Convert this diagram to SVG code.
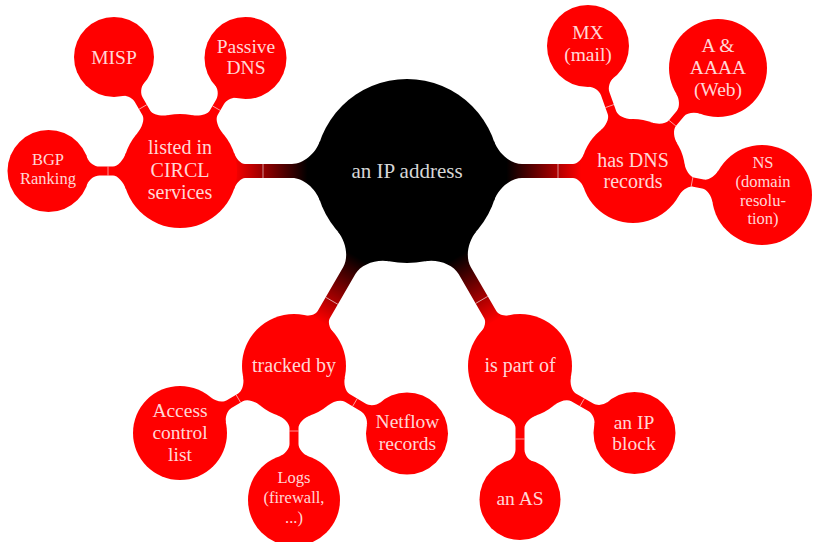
<svg xmlns="http://www.w3.org/2000/svg" width="815" height="542" viewBox="0 0 815 542">
<style>
.red{fill:#ff0000}
.blk{fill:#000000}
.bar{fill:url(#g)}
.sep{stroke:#ffffff;stroke-width:0.7;stroke-opacity:0.8;fill:none}
text{font-family:"Liberation Serif","Times New Roman",serif;fill:#ffffff;fill-opacity:0.85;text-anchor:middle}
.t0{font-size:21px}
.t1{font-size:20px}
.t2{font-size:19.5px}
.ts{font-size:16.5px}
</style>
<defs>
<linearGradient id="g" gradientUnits="userSpaceOnUse" x1="0" y1="0" x2="226" y2="0">
<stop offset="0" stop-color="#000"/>
<stop offset="0.44" stop-color="#000"/>
<stop offset="0.77" stop-color="#f00"/>
<stop offset="1" stop-color="#f00"/>
</linearGradient>
</defs>
<g id="connectors">
<g transform="translate(407,171) rotate(180)">
<path class="bar" d="M86.99,29.95 C91.34,17.33 103.94,7 115,7 L162,7 C165.92,7 170.92,12.2 173.11,18.56 L173.11,-18.56 C170.92,-12.2 165.92,-7 162,-7 L115,-7 C103.94,-7 91.34,-17.33 86.99,-29.95 Z"/>
<line class="sep" x1="144" y1="-7" x2="144" y2="7"/>
</g>
<g transform="translate(407,171) rotate(0)">
<path class="bar" d="M86.99,29.95 C91.34,17.33 103.94,7 115,7 L166,7 C170.08,7 174.95,11.47 176.83,16.93 L176.83,-16.93 C174.95,-11.47 170.08,-7 166,-7 L115,-7 C103.94,-7 91.34,-17.33 86.99,-29.95 Z"/>
<line class="sep" x1="151" y1="-7" x2="151" y2="7"/>
</g>
<g transform="translate(407,171) rotate(120.1)">
<path class="bar" d="M86.99,29.95 C91.34,17.33 103.94,7 115,7 L166,7 C170.08,7 174.95,11.47 176.83,16.93 L176.83,-16.93 C174.95,-11.47 170.08,-7 166,-7 L115,-7 C103.94,-7 91.34,-17.33 86.99,-29.95 Z"/>
<line class="sep" x1="150" y1="-7" x2="150" y2="7"/>
</g>
<g transform="translate(407,171) rotate(59.9)">
<path class="bar" d="M86.99,29.95 C91.34,17.33 103.94,7 115,7 L166,7 C170.08,7 174.95,11.47 176.83,16.93 L176.83,-16.93 C174.95,-11.47 170.08,-7 166,-7 L115,-7 C103.94,-7 91.34,-17.33 86.99,-29.95 Z"/>
<line class="sep" x1="149" y1="-7" x2="149" y2="7"/>
</g>
<g transform="translate(180,171) rotate(-120.1)">
<path class="red" d="M53.89,18.56 C56.55,10.83 62.45,4.5 67,4.5 L82,4.5 C87.09,4.5 92.57,8.33 94.18,13.02 L94.18,-13.02 C92.57,-8.33 87.09,-4.5 82,-4.5 L67,-4.5 C62.45,-4.5 56.55,-10.83 53.89,-18.56 Z"/>
<line class="sep" x1="74" y1="-4.5" x2="74" y2="4.5"/>
</g>
<g transform="translate(180,171) rotate(-59.9)">
<path class="red" d="M53.89,18.56 C56.55,10.83 62.45,4.5 67,4.5 L80,4.5 C85.05,4.5 90.55,8.48 92.23,13.35 L92.23,-13.35 C90.55,-8.48 85.05,-4.5 80,-4.5 L67,-4.5 C62.45,-4.5 56.55,-10.83 53.89,-18.56 Z"/>
<line class="sep" x1="72.6" y1="-4.5" x2="72.6" y2="4.5"/>
</g>
<g transform="translate(180,171) rotate(180)">
<path class="red" d="M53.89,18.56 C56.55,10.83 62.45,4.5 67,4.5 L80.5,4.5 C85.55,4.5 91.05,8.48 92.73,13.35 L92.73,-13.35 C91.05,-8.48 85.55,-4.5 80.5,-4.5 L67,-4.5 C62.45,-4.5 56.55,-10.83 53.89,-18.56 Z"/>
<line class="sep" x1="72" y1="-4.5" x2="72" y2="4.5"/>
</g>
<g transform="translate(633,171) rotate(-109.8)">
<path class="red" d="M49.17,16.93 C51.52,10.09 57.3,4.5 62,4.5 L82,4.5 C87.05,4.5 92.55,8.48 94.23,13.35 L94.23,-13.35 C92.55,-8.48 87.05,-4.5 82,-4.5 L62,-4.5 C57.3,-4.5 51.52,-10.09 49.17,-16.93 Z"/>
<line class="sep" x1="69" y1="-4.5" x2="69" y2="4.5"/>
</g>
<g transform="translate(633,171) rotate(-50.5)">
<path class="red" d="M49.17,16.93 C51.52,10.09 57.3,4.5 62,4.5 L74.5,4.5 C79.3,4.5 85,9.65 87.17,15.95 L87.17,-15.95 C85,-9.65 79.3,-4.5 74.5,-4.5 L62,-4.5 C57.3,-4.5 51.52,-10.09 49.17,-16.93 Z"/>
<line class="sep" x1="62" y1="-4.5" x2="62" y2="4.5"/>
</g>
<g transform="translate(633,171) rotate(10.5)">
<path class="red" d="M49.17,16.93 C51.52,10.09 57.3,4.5 62,4.5 L71.2,4.5 C75.96,4.5 81.69,9.8 83.92,16.28 L83.92,-16.28 C81.69,-9.8 75.96,-4.5 71.2,-4.5 L62,-4.5 C57.3,-4.5 51.52,-10.09 49.17,-16.93 Z"/>
<line class="sep" x1="60" y1="-5" x2="60" y2="5"/>
</g>
<g transform="translate(294,366) rotate(149.6)">
<path class="red" d="M49.17,16.93 C51.52,10.09 57.3,4.5 62,4.5 L75.2,4.5 C80.06,4.5 85.71,9.36 87.76,15.3 L87.76,-15.3 C85.71,-9.36 80.06,-4.5 75.2,-4.5 L62,-4.5 C57.3,-4.5 51.52,-10.09 49.17,-16.93 Z"/>
<line class="sep" x1="64.5" y1="-4.5" x2="64.5" y2="4.5"/>
</g>
<g transform="translate(294,366) rotate(90)">
<path class="red" d="M49.17,16.93 C51.52,10.09 57.3,4.5 62,4.5 L78,4.5 C82.9,4.5 88.52,9.22 90.51,14.98 L90.51,-14.98 C88.52,-9.22 82.9,-4.5 78,-4.5 L62,-4.5 C57.3,-4.5 51.52,-10.09 49.17,-16.93 Z"/>
<line class="sep" x1="65" y1="-4.5" x2="65" y2="4.5"/>
</g>
<g transform="translate(294,366) rotate(30.9)">
<path class="red" d="M49.17,16.93 C51.52,10.09 57.3,4.5 62,4.5 L80.6,4.5 C85.65,4.5 91.15,8.48 92.83,13.35 L92.83,-13.35 C91.15,-8.48 85.65,-4.5 80.6,-4.5 L62,-4.5 C57.3,-4.5 51.52,-10.09 49.17,-16.93 Z"/>
<line class="sep" x1="71" y1="-4.5" x2="71" y2="4.5"/>
</g>
<g transform="translate(520,366) rotate(90)">
<path class="red" d="M49.17,16.93 C51.52,10.09 57.3,4.5 62,4.5 L83.5,4.5 C88.59,4.5 94.07,8.33 95.68,13.02 L95.68,-13.02 C94.07,-8.33 88.59,-4.5 83.5,-4.5 L62,-4.5 C57.3,-4.5 51.52,-10.09 49.17,-16.93 Z"/>
<line class="sep" x1="73" y1="-4.5" x2="73" y2="4.5"/>
</g>
<g transform="translate(520,366) rotate(30.3)">
<path class="red" d="M49.17,16.93 C51.52,10.09 57.3,4.5 62,4.5 L81.7,4.5 C86.75,4.5 92.25,8.48 93.93,13.35 L93.93,-13.35 C92.25,-8.48 86.75,-4.5 81.7,-4.5 L62,-4.5 C57.3,-4.5 51.52,-10.09 49.17,-16.93 Z"/>
<line class="sep" x1="72" y1="-4.5" x2="72" y2="4.5"/>
</g>
</g>
<g id="root"><circle class="blk" cx="407" cy="171" r="92"/><text class="t0" x="407" y="178">an IP address</text></g>
<g id="listed"><circle class="red" cx="180" cy="171" r="57"/><text class="t1" x="180" y="154">listed in</text><text class="t1" x="180" y="177">CIRCL</text><text class="t1" x="180" y="199">services</text></g>
<g id="hasdns"><circle class="red" cx="633" cy="171" r="52"/><text class="t1" x="633" y="167">has DNS</text><text class="t1" x="633" y="188">records</text></g>
<g id="tracked"><circle class="red" cx="294" cy="366" r="52"/><text class="t1" x="294" y="372">tracked by</text></g>
<g id="partof"><circle class="red" cx="520" cy="366" r="52"/><text class="t1" x="520" y="372">is part of</text></g>
<g id="misp"><circle class="red" cx="114" cy="57" r="40"/><text class="t2" x="114" y="64">MISP</text></g>
<g id="passive"><circle class="red" cx="245.5" cy="58" r="41"/><text class="t2" x="246" y="53">Passive</text><text class="t2" x="246" y="74">DNS</text></g>
<g id="bgp"><circle class="red" cx="48.5" cy="171" r="41"/><text class="ts" x="48" y="165">BGP</text><text class="ts" x="48" y="184">Ranking</text></g>
<g id="mx"><circle class="red" cx="588" cy="46" r="41"/><text class="t2" x="588" y="39">MX</text><text class="t2" x="588" y="61">(mail)</text></g>
<g id="a"><circle class="red" cx="718" cy="68" r="49"/><text class="t2" x="718" y="52">A &amp;</text><text class="t2" x="718" y="74">AAAA</text><text class="t2" x="718" y="96">(Web)</text></g>
<g id="ns"><circle class="red" cx="762" cy="195" r="50"/><text class="ts" x="763" y="168">NS</text><text class="ts" x="763" y="187">(domain</text><text class="ts" x="763" y="206">resolu-</text><text class="ts" x="763" y="224">tion)</text></g>
<g id="access"><circle class="red" cx="180" cy="433" r="47"/><text class="t2" x="180" y="417">Access</text><text class="t2" x="180" y="439">control</text><text class="t2" x="180" y="461">list</text></g>
<g id="logs"><circle class="red" cx="294" cy="500" r="46"/><text class="ts" x="294" y="483">Logs</text><text class="ts" x="294" y="503">(firewall,</text><text class="ts" x="294" y="523">...)</text></g>
<g id="netflow"><circle class="red" cx="407" cy="433.5" r="41"/><text class="t2" x="407.5" y="428">Netflow</text><text class="t2" x="407.5" y="450">records</text></g>
<g id="as"><circle class="red" cx="520" cy="499.5" r="40.5"/><text class="t2" x="520" y="505">an AS</text></g>
<g id="ipblock"><circle class="red" cx="634.5" cy="433" r="41"/><text class="t2" x="634" y="429">an IP</text><text class="t2" x="634" y="450">block</text></g>
</svg>
